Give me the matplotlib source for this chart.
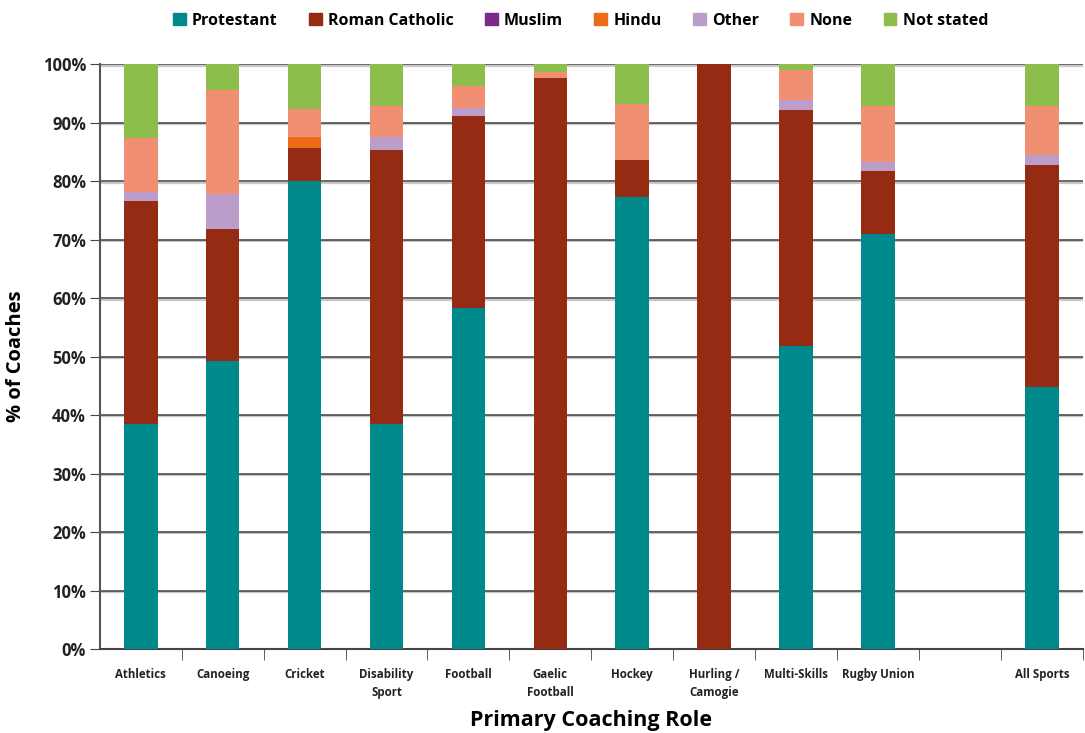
import numpy as np
import matplotlib
matplotlib.use("Agg")
import matplotlib.pyplot as plt
from matplotlib.patches import Patch

# data (% of coaches)
sports = ["Athletics", "Canoeing", "Cricket", "Disability\nSport", "Football",
          "Gaelic\nFootball", "Hockey", "Hurling /\nCamogie", "Multi-Skills",
          "Rugby Union", "", "All Sports"]
protestant = [38.5, 49.2, 80.0, 38.5, 58.3, 0.0, 77.3, 0.0, 51.8, 70.9, 0, 44.8]
catholic = [38.1, 22.6, 5.7, 46.8, 32.8, 97.7, 6.3, 100.0, 40.4, 10.9, 0, 38.0]
muslim = [0, 0, 0, 0, 0, 0, 0, 0, 0, 0, 0, 0]
hindu = [0, 0, 1.9, 0, 0, 0, 0, 0, 0, 0, 0, 0]
other = [1.5, 6.0, 0, 2.3, 1.4, 0, 0, 0, 1.6, 1.5, 0, 1.7]
none = [9.3, 17.7, 4.8, 5.3, 3.7, 0.9, 9.5, 0, 5.1, 9.6, 0, 8.4]
not_stated = [12.6, 4.5, 7.6, 7.1, 3.8, 1.4, 6.9, 0, 1.1, 7.1, 0, 7.1]

series = [
    ("Protestant", protestant, "#00898b"),
    ("Roman Catholic", catholic, "#962b14"),
    ("Muslim", muslim, "#7b2a8c"),
    ("Hindu", hindu, "#ec6b17"),
    ("Other", other, "#bc9cc8"),
    ("None", none, "#f08f72"),
    ("Not stated", not_stated, "#8dbd4b"),
]

plt.rcParams['font.family'] = ['Open Sans', 'DejaVu Sans']

fig = plt.figure(figsize=(10.85, 7.33), dpi=100)
ax = fig.add_axes([0.092, 0.1146, 0.906, 0.798])

x = np.arange(len(sports))
bottom = np.zeros(len(sports))
for name, vals, col in series:
    vals = np.array(vals, dtype=float)
    ax.bar(x, vals, 0.41, bottom=bottom, color=col, zorder=3, linewidth=0)
    bottom += vals

ax.set_xlim(-0.5, len(sports) - 0.5)
ax.set_ylim(0, 100)
ax.set_yticks(np.arange(0, 101, 10))
ax.set_yticklabels([f"{v}%" for v in range(0, 101, 10)],
                   fontsize=12, fontweight='bold', color="#222222")
ax.set_xticks(x)
ax.set_xticklabels(sports, fontsize=8.3, fontweight='bold', color="#222222",
                   linespacing=1.45)
ax.tick_params(axis='x', which='major', length=0, pad=14)
ax.set_xticks(np.arange(-0.5, len(sports), 1)[1:], minor=True)
ax.tick_params(axis='x', which='minor', length=8, color="#444444", direction='out')
ax.tick_params(axis='y', length=7, color="#444444", direction='out', pad=3)

# gridlines: dark line with a light grey shadow under it
for yv in range(10, 101, 10):
    ax.axhline(yv - 0.25, color="#c8c8c8", linewidth=1.6, zorder=1)
    ax.axhline(yv, color="#404040", linewidth=1.1, zorder=2)

for side in ['top', 'right']:
    ax.spines[side].set_visible(False)
ax.spines['left'].set_color("#555555")
ax.spines['left'].set_linewidth(1.5)
ax.spines['bottom'].set_color("#444444")
ax.spines['bottom'].set_linewidth(1.5)

ax.set_ylabel("% of Coaches", fontsize=14.5, fontweight='bold', labelpad=12)
ax.set_xlabel("Primary Coaching Role", fontsize=15.5, fontweight='bold',
              labelpad=8)

handles = [Patch(color=col, label=name) for name, vals, col in series]
fig.legend(handles=handles, loc='center', bbox_to_anchor=(0.535, 0.972),
           ncol=7, frameon=False, handlelength=0.8, handleheight=0.8,
           columnspacing=1.95, handletextpad=0.4,
           prop={'weight': 'bold', 'size': 11.5})

fig.savefig("out.png", dpi=100)
